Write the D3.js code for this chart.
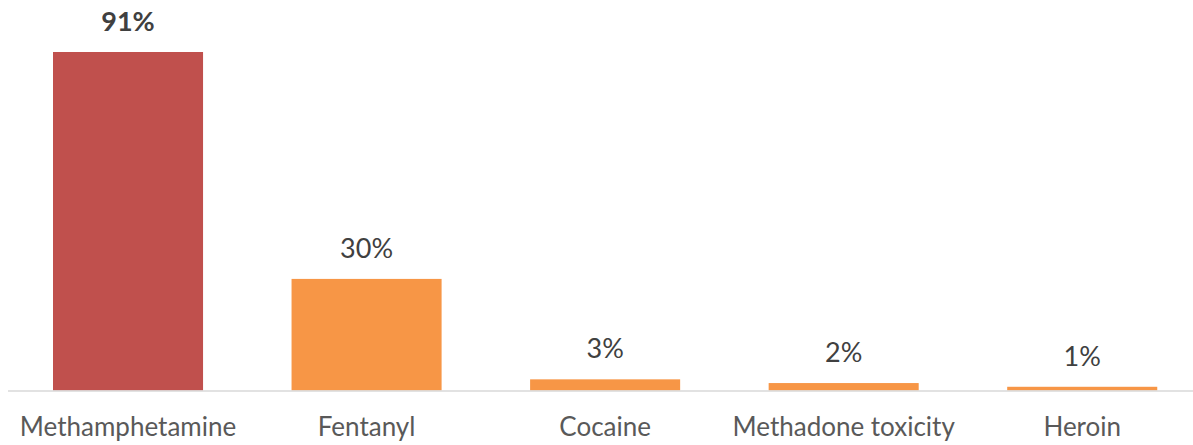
<!DOCTYPE html>
<html>
<head>
<meta charset="utf-8">
<script src="https://cdn.jsdelivr.net/npm/d3@7"></script>
<style>
  html, body { margin: 0; padding: 0; background: #fff; }
  svg { display: block; }
</style>
</head>
<body>
<svg id="chart" width="1193" height="445"></svg>
<script>
// Share of cases by substance
const categories = ["Methamphetamine", "Fentanyl", "Cocaine", "Methadone toxicity", "Heroin"];
const values = [91, 30, 3, 2, 1];
const barColors = ["#C0504D", "#F79646", "#F79646", "#F79646", "#F79646"];
const boldLabel = [true, false, false, false, false];

const chartWidth = 1193;
const baseY = 390.5, topY = 52;
const fontFamily = "Lato, 'Open Sans', sans-serif";

const svg = d3.select("#chart");

const x = d3.scaleBand()
  .domain(categories)
  .range([8.75, 1201.5])
  .paddingInner(0.371)
  .paddingOuter(0.1855);

const y = d3.scaleLinear()
  .domain([0, 91])
  .range([baseY, topY]);

// bars
svg.append("g")
  .selectAll("rect")
  .data(categories)
  .join("rect")
  .attr("x", d => x(d))
  .attr("width", x.bandwidth())
  .attr("y", (d, i) => y(values[i]))
  .attr("height", (d, i) => y(0) - y(values[i]))
  .attr("fill", (d, i) => barColors[i]);

// category axis
const axis = d3.axisBottom(x).tickSize(0).tickPadding(27);
const gx = svg.append("g")
  .attr("transform", `translate(0,${baseY})`)
  .call(axis);
gx.select(".domain").remove();
gx.append("line")
  .attr("x1", 8).attr("x2", chartWidth)
  .attr("y1", 0.5).attr("y2", 0.5)
  .attr("stroke", "#D9D9D9")
  .attr("stroke-width", 1.5);
gx.selectAll(".tick text")
  .attr("font-family", fontFamily)
  .attr("font-size", 26)
  .attr("fill", "#595959");

// value labels
svg.append("g")
  .selectAll("text")
  .data(categories)
  .join("text")
  .attr("x", d => x(d) + x.bandwidth() / 2)
  .attr("y", (d, i) => y(values[i]) - 21)
  .attr("text-anchor", "middle")
  .attr("font-family", fontFamily)
  .attr("font-size", 27)
  .attr("font-weight", (d, i) => boldLabel[i] ? "bold" : "normal")
  .attr("fill", "#404040")
  .text((d, i) => values[i] + "%");
</script>
</body>
</html>
